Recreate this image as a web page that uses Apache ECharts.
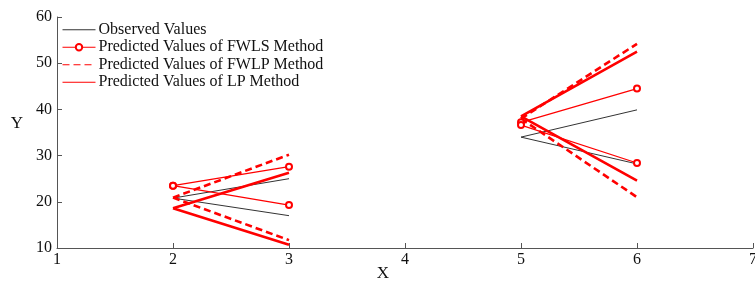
<!DOCTYPE html>
<html>
<head>
<meta charset="utf-8">
<script src="https://cdn.jsdelivr.net/npm/echarts@6/dist/echarts.min.js"></script>
<style>
  html, body { margin: 0; padding: 0; background: #fff; }
  #chart { width: 755px; height: 283px; }
</style>
</head>
<body>
<div id="chart"></div>
<script>
// each segment runs from xFrom to xFrom + 1
const xFrom = [2, 2, 5, 5]
const observedFrom = [20.8, 20.8, 34.0, 34.0]
const observedTo = [25.0, 17.0, 39.9, 28.2]
const fwlsFrom = [23.5, 23.5, 37.2, 36.6]
const fwlsTo = [27.6, 19.3, 44.5, 28.4]
const fwlpFrom = [20.9, 20.9, 38.0, 38.0]
const fwlpTo = [30.2, 11.7, 54.2, 21.0]
const lpFrom = [18.6, 18.6, 38.5, 38.5]
const lpTo = [26.3, 10.7, 52.5, 24.6]
const xTicks = [1, 2, 3, 4, 5, 6, 7]
const yTicks = [10, 20, 30, 40, 50, 60]

const serif = '"Liberation Serif", "DejaVu Serif", serif'

// one series per method, segments split by an empty point
function segData(from, to) {
  const out = []
  xFrom.forEach(function (x, i) {
    if (i > 0) out.push([x, '-'])
    out.push([x, from[i]], [x + 1, to[i]])
  })
  return out
}

const noMarker = { opacity: 0 }

const chart = echarts.init(document.getElementById('chart'))
chart.setOption({
  animation: false,
  backgroundColor: '#fff',
  grid: { left: 57, right: 2, top: 17, bottom: 35, outerBoundsMode: 'none' },
  legend: {
    orient: 'vertical',
    left: 62,
    top: 21,
    padding: 0,
    itemGap: 0,
    itemWidth: 33,
    itemHeight: 8,
    lineStyle: { width: 1 },
    textStyle: { fontFamily: serif, fontSize: 16, color: '#111', lineHeight: 17.5, padding: [0, 0, 0, -2] },
    data: [
      { name: 'Observed Values', itemStyle: noMarker },
      { name: 'Predicted Values of FWLS Method' },
      { name: 'Predicted Values of FWLP Method', itemStyle: noMarker },
      { name: 'Predicted Values of LP Method', itemStyle: noMarker }
    ]
  },
  xAxis: {
    type: 'value',
    min: xTicks[0],
    max: xTicks[xTicks.length - 1],
    interval: 1,
    name: 'X',
    nameLocation: 'middle',
    nameMoveOverlap: false,
    nameGap: 17,
    nameTextStyle: { fontFamily: serif, fontSize: 17, color: '#111', padding: [0, 44, 0, 0] },
    axisLine: { lineStyle: { color: '#555', width: 1 } },
    axisTick: { inside: true, length: 5, lineStyle: { color: '#555' } },
    axisLabel: { fontFamily: serif, fontSize: 16, color: '#111', margin: 4 },
    splitLine: { show: false }
  },
  yAxis: {
    type: 'value',
    min: yTicks[0],
    max: yTicks[yTicks.length - 1],
    interval: 10,
    name: 'Y',
    nameLocation: 'middle',
    nameMoveOverlap: false,
    nameRotate: 0,
    nameGap: 34,
    nameTextStyle: { fontFamily: serif, fontSize: 17, color: '#111', verticalAlign: 'bottom', padding: [0, 0, 0, 0] },
    axisLine: { show: true, lineStyle: { color: '#555', width: 1 } },
    axisTick: { show: true, inside: true, length: 5, lineStyle: { color: '#555' } },
    axisLabel: { fontFamily: serif, fontSize: 16, color: '#111', margin: 5 },
    splitLine: { show: false }
  },
  series: [
    {
      name: 'Observed Values',
      type: 'line',
      silent: true,
      symbol: 'none',
      color: '#000',
      lineStyle: { color: '#333', width: 1 },
      data: segData(observedFrom, observedTo)
    },
    {
      name: 'Predicted Values of FWLS Method',
      type: 'line',
      silent: true,
      symbol: 'emptyCircle',
      symbolSize: 6,
      showSymbol: true,
      color: '#ff0000',
      lineStyle: { color: '#ff0000', width: 1.2 },
      data: segData(fwlsFrom, fwlsTo)
    },
    {
      name: 'Predicted Values of FWLP Method',
      type: 'line',
      silent: true,
      symbol: 'none',
      color: '#ff0000',
      lineStyle: { color: '#ff0000', width: 2.6, type: [7, 4] },
      data: segData(fwlpFrom, fwlpTo)
    },
    {
      name: 'Predicted Values of LP Method',
      type: 'line',
      silent: true,
      symbol: 'none',
      color: '#ff0000',
      lineStyle: { color: '#ff0000', width: 2.6 },
      data: segData(lpFrom, lpTo)
    }
  ]
})
</script>
</body>
</html>
